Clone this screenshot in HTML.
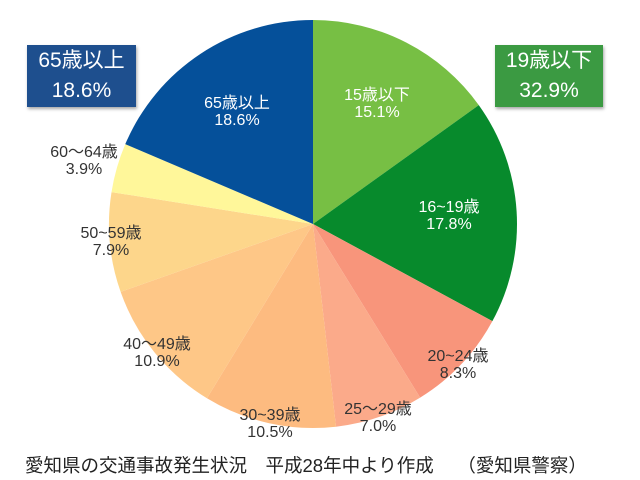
<!DOCTYPE html>
<html><head><meta charset="utf-8"><style>
body{margin:0;width:640px;height:480px;background:#fff;position:relative;overflow:hidden;font-family:"Liberation Sans","Noto Sans CJK JP",sans-serif}
.l{position:absolute;text-align:center;font-size:16px;line-height:17px;color:#333;transform:translate(-50%,-50%);white-space:nowrap}
.w{color:#fff}
.box{position:absolute;color:#fff;font-size:21px;line-height:30px;text-align:center;box-shadow:1px 2px 3px rgba(0,0,0,.35)}
</style></head><body>
<svg width="640" height="480" style="position:absolute;left:0;top:0" id="s"></svg>
<div class="box" style="left:27px;top:45px;width:109px;height:61px;background:#1e4f8e;padding-top:1px">65歳以上<br>18.6%</div>
<div class="box" style="left:495px;top:45px;width:108px;height:61px;background:#3b9a42;padding-top:1px">19歳以下<br>32.9%</div>
<div class="l w" style="left:377px;top:104px">15歳以下<br>15.1%</div>
<div class="l w" style="left:449px;top:216px">16~19歳<br>17.8%</div>
<div class="l" style="left:458px;top:365px">20~24歳<br>8.3%</div>
<div class="l" style="left:378px;top:418px">25〜29歳<br>7.0%</div>
<div class="l" style="left:270px;top:424px">30~39歳<br>10.5%</div>
<div class="l" style="left:157px;top:353px">40〜49歳<br>10.9%</div>
<div class="l" style="left:111px;top:242px">50~59歳<br>7.9%</div>
<div class="l" style="left:84px;top:161px">60〜64歳<br>3.9%</div>
<div class="l w" style="left:237px;top:112px">65歳以上<br>18.6%</div>
<div style="position:absolute;left:25px;top:452px;font-size:18.5px;color:#222;white-space:nowrap">愛知県の交通事故発生状況　平成28年中より作成　 （愛知県警察）</div>
<script>
var d=[[15.1,"#77bf44"],[17.8,"#078a2c"],[8.3,"#f8957b"],[7.0,"#fbaa8a"],[10.5,"#fdbb80"],[10.9,"#fec787"],[7.9,"#fdd68b"],[3.9,"#fff79a"],[18.6,"#05509a"]];
var cx=313,cy=224,r=204,a=0,h="";
d.forEach(function(e){var b=a+e[0]/100*2*Math.PI;
var x1=cx+r*Math.sin(a),y1=cy-r*Math.cos(a),x2=cx+r*Math.sin(b),y2=cy-r*Math.cos(b);
h+='<path d="M'+cx+' '+cy+'L'+x1+' '+y1+'A'+r+' '+r+' 0 '+(b-a>Math.PI?1:0)+' 1 '+x2+' '+y2+'Z" fill="'+e[1]+'"/>';a=b;});
document.getElementById("s").innerHTML=h;
</script>
</body></html>
